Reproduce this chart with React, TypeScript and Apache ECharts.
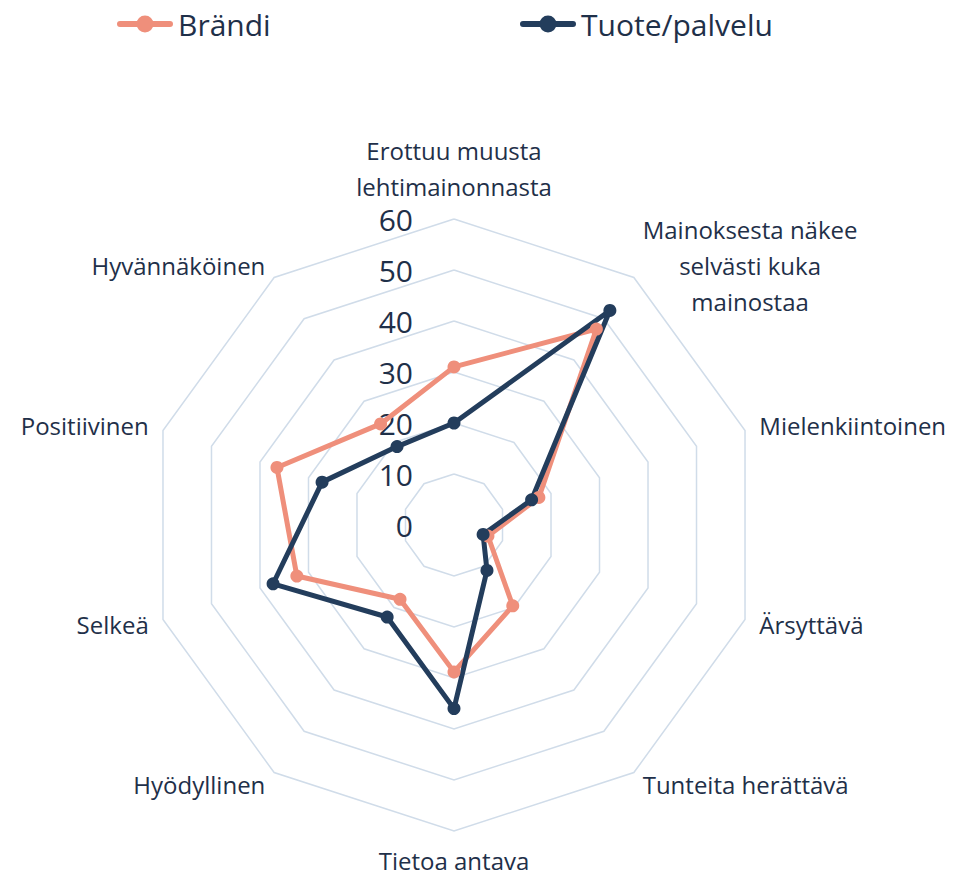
import React, { useEffect, useRef } from "react";
import * as echarts from "echarts";

// Indicators in clockwise order starting from the top
const indicatorNames = [
  "Erottuu muusta\nlehtimainonnasta",
  "Mainoksesta näkee\nselvästi kuka\nmainostaa",
  "Mielenkiintoinen",
  "Ärsyttävä",
  "Tunteita herättävä",
  "Tietoa antava",
  "Hyödyllinen",
  "Selkeä",
  "Positiivinen",
  "Hyvännäköinen",
];
const brandiValues = [31, 47.5, 17.5, 7, 19.6, 28.8, 18, 32.4, 36.5, 24.5];
const tuoteValues = [20, 52, 16, 6, 11, 36, 22.3, 37.3, 27.2, 19];
const seriesNames = ["Brändi", "Tuote/palvelu"];
const axisMin = 0;
const axisMax = 60;
const axisSplits = 6;

const SALMON = "#ef8f7b";
const NAVY = "#233d5c";
const TEXT = "#1f3049";
const FONT = "'Open Sans', 'Noto Sans', sans-serif";

// ECharts places radar indicators counter-clockwise; reorder to get clockwise
const ccwOrder = [0, 9, 8, 7, 6, 5, 4, 3, 2, 1];
const reorder = <T,>(arr: T[]) => ccwOrder.map((i) => arr[i]);

const LEGEND_ICON =
  "path://M3,5.5 L53,5.5 A3,3 0 0,1 53,11.5 L3,11.5 A3,3 0 0,1 3,5.5 Z M19.5,8.5 A8.5,8.5 0 1,1 36.5,8.5 A8.5,8.5 0 1,1 19.5,8.5 Z";

export default function App() {
  const ref = useRef<HTMLDivElement>(null);
  useEffect(() => {
    if (!ref.current) return;
    const chart = echarts.init(ref.current, undefined, { renderer: "svg" });
    const indicators = reorder(indicatorNames).map((name, i) => {
      const ind: any = { name, min: axisMin, max: axisMax };
      if (i === 0) ind.axisLabel = { show: true };
      return ind;
    });
    const legendCommon = {
      top: 4,
      itemWidth: 56,
      itemHeight: 17,
      icon: LEGEND_ICON,
      textStyle: { fontSize: 30, color: TEXT, fontFamily: FONT },
    };
    chart.setOption({
      animation: false,
      backgroundColor: "#ffffff",
      legend: [
        { ...legendCommon, left: 112, data: [seriesNames[0]] },
        { ...legendCommon, left: 515, data: [seriesNames[1]] },
      ],
      radar: {
        center: [454, 525],
        radius: 306,
        startAngle: 90,
        splitNumber: axisSplits,
        shape: "polygon",
        indicator: indicators,
        nameGap: 15,
        axisName: {
          color: TEXT,
          fontSize: 24,
          fontFamily: FONT,
          formatter: (name: string) => {
            const lines = name.split("\n");
            const tag = lines.length > 1 ? "c" : "s";
            return lines.map((l) => `{${tag}|${l}}`).join("\n");
          },
          rich: {
            c: {
              align: "center",
              fontSize: 24,
              lineHeight: 36,
              color: TEXT,
              fontFamily: FONT,
            },
            s: {
              align: "center",
              fontSize: 24,
              lineHeight: 28,
              color: TEXT,
              fontFamily: FONT,
            },
          },
        },
        axisLine: { show: false },
        axisTick: { show: false },
        splitArea: { show: false },
        splitLine: { lineStyle: { color: "#d0dce9", width: 1.5 } },
        axisLabel: {
          show: false,
          fontSize: 30,
          color: TEXT,
          fontFamily: FONT,
          margin: 41,
          showMinLabel: true,
          showMaxLabel: true,
        },
      },
      series: [
        {
          type: "radar",
          symbol: "circle",
          symbolSize: 13,
          data: [
            {
              name: seriesNames[0],
              value: reorder(brandiValues),
              itemStyle: { color: SALMON },
              lineStyle: { color: SALMON, width: 5 },
            },
            {
              name: seriesNames[1],
              value: reorder(tuoteValues),
              itemStyle: { color: NAVY },
              lineStyle: { color: NAVY, width: 5 },
            },
          ],
        },
      ],
    });
    return () => chart.dispose();
  }, []);
  return (
    <div
      ref={ref}
      style={{ position: "absolute", left: 0, top: 0, width: 957, height: 876 }}
    />
  );
}
